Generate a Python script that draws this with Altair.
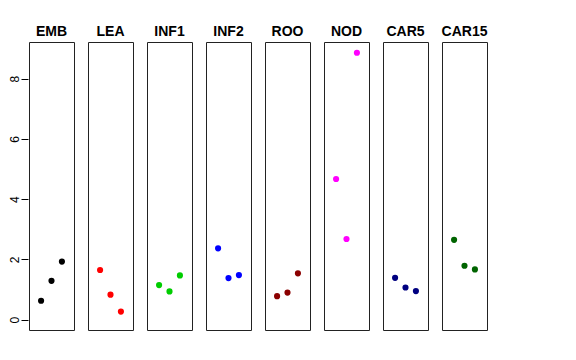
import altair as alt
import pandas as pd

panels = ["EMB", "LEA", "INF1", "INF2", "ROO", "NOD", "CAR5", "CAR15"]
colors = ["#000000", "#FF0000", "#00CD00", "#0000FF", "#8B0000", "#FF00FF", "#000080", "#006400"]
positions = [1, 2, 3]
values = {
    "EMB": [0.63, 1.29, 1.93],
    "LEA": [1.65, 0.83, 0.27],
    "INF1": [1.15, 0.94, 1.47],
    "INF2": [2.37, 1.38, 1.48],
    "ROO": [0.78, 0.90, 1.54],
    "NOD": [4.67, 2.68, 8.86],
    "CAR5": [1.39, 1.07, 0.95],
    "CAR15": [2.65, 1.79, 1.67],
}

rows = []
for p in panels:
    for xi, v in zip(positions, values[p]):
        rows.append({"panel": p, "pos": xi, "value": v})
df = pd.DataFrame(rows)

chart = (
    alt.Chart(df)
    .mark_circle(size=38, opacity=1)
    .encode(
        x=alt.X("pos:Q", scale=alt.Scale(domain=[-0.16, 4.16], nice=False, zero=False), axis=None),
        y=alt.Y(
            "value:Q",
            scale=alt.Scale(domain=[-0.342, 9.218], nice=False, zero=False),
            axis=alt.Axis(
                values=[0, 2, 4, 6, 8],
                title=None,
                grid=False,
                domain=False,
                tickSize=7,
                tickColor="#000000",
                labelAngle=270,
                labelAlign="center",
                labelBaseline="alphabetic",
                labelPadding=3,
                labelFontSize=12,
                labelFont="Liberation Sans",
                labelColor="#000000",
            ),
        ),
        color=alt.Color("panel:N", scale=alt.Scale(domain=panels, range=colors), legend=None),
    )
    .properties(width=45, height=288)
    .facet(
        column=alt.Column(
            "panel:N",
            sort=panels,
            header=alt.Header(
                title=None,
                labelFontSize=14,
                labelFontWeight="bold",
                labelFont="Liberation Sans",
                labelColor="#000000",
                labelPadding=2,
            ),
        ),
        spacing=12,
    )
    .configure_view(stroke="#222222", strokeWidth=1)
    .properties(padding={"left": 0, "top": 17, "right": 5, "bottom": 5}, background="white")
)

chart.save("out.html", embed_options={"renderer": "svg", "actions": False})
